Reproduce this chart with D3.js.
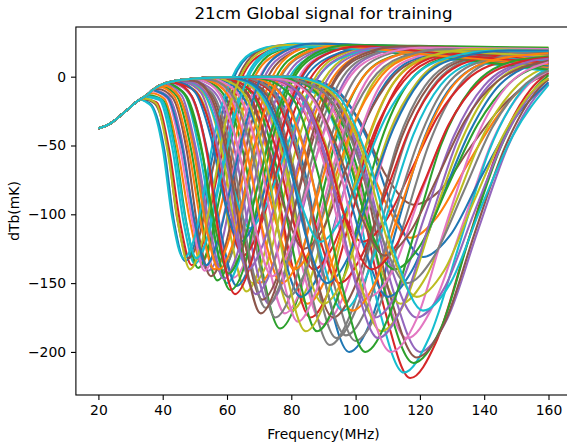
<!DOCTYPE html>
<html>
<head>
<meta charset="utf-8">
<script src="https://cdn.jsdelivr.net/npm/d3@7"></script>
<style>
  body { margin: 0; background: #fff; }
  text { font-family: "DejaVu Sans", sans-serif; }
</style>
</head>
<body>
<script>
// shared rising part of every signal
var riseF = [20, 22, 24, 26, 28, 30, 32, 33];
var riseT = [-37.5, -36, -33.5, -30, -26, -22, -18, -16.5];
// plateau that the later-trough signals follow before they dip
var plateauF = [35, 37, 39, 42, 45, 50, 56, 65, 80, 100, 130, 160];
var plateauT = [-13.5, -9.5, -6.5, -4, -2.6, -1.3, -0.6, -0.2, 0, 0.2, 0.3, 0.3];

var xTicks = [20, 40, 60, 80, 100, 120, 140, 160];
var yTicks = [-200, -150, -100, -50, 0];
var palette = ["#1f77b4", "#ff7f0e", "#2ca02c", "#d62728", "#9467bd",
               "#8c564b", "#e377c2", "#7f7f7f", "#bcbd22", "#17becf"];

// each signal: [frequency MHz, dTb mK] points after it leaves the shared curve
var signals = [
  [[69,-2],[76.5,-16],[84.5,-72],[91,-154],[98,-200],[105,-176],[112.5,-112],[120.5,-50],[129.5,-8],[142,11],[160,16]],
  [[82,-1],[91.5,-9],[100.5,-42],[109,-90],[117,-117],[125,-103],[134.5,-65],[144,-29],[154.5,-3],[160,4]],
  [[53.5,-3],[59.5,-15],[66,-66],[71,-141],[76.5,-183],[82,-161],[88,-102],[94,-45],[101,-5],[111,14.5],[124,20],[160,18]],
  [[82,-2],[91.5,-17],[100.5,-79],[109,-169],[117,-219],[125,-193],[134.5,-123],[144,-55],[154.5,-9],[160,3]],
  [[84,-2],[93.5,-16],[103,-72],[111.5,-154],[120,-200],[128.5,-176],[138,-112],[147.5,-50],[158.5,-8],[160,-5]],
  [[82.5,-1],[92,-7],[101.5,-33],[109.5,-72],[118,-93],[126.5,-82],[135.5,-52],[145,-23],[156,-2],[160,2]],
  [[81,-2],[90.5,-15],[100,-68],[108,-146],[116,-190],[124,-167],[133.5,-106],[142.5,-47],[153,-7.5],[160,4]],
  [[70,-2],[78,-15],[86,-69],[93,-148],[100,-192],[107,-169],[115,-107],[123,-48],[132,-7],[145,13],[160,17.5]],
  [[80,-1.5],[89,-13],[98,-59],[106,-127],[114,-165],[122,-145],[131,-92],[140,-41],[150.5,-6],[160,7.5]],
  [[80.5,-2],[89.5,-17],[99,-77],[107,-166],[115,-215],[123,-189],[132.5,-120],[141.5,-54],[152,-9],[160,6.5]],

  [[84.5,-1],[94.5,-10.5],[104,-47],[112.5,-101],[121,-131],[129.5,-115],[139,-73],[149,-32],[160,-4]],
  [[36.5,-12],[40.5,-16],[44.5,-51],[48.5,-105],[52,-135],[55.5,-118],[60,-75],[64,-32],[68.5,-1],[75.5,16.5],[84,22],[120,17.5],[160,12]],
  [[82.5,-2],[92,-16.5],[101.5,-75],[109.5,-160],[118,-208],[126.5,-183],[135.5,-116],[145,-52],[156,-8],[160,1]],
  [[34.5,-16.5],[38,-18.5],[42,-53],[45.5,-107],[49,-137],[52.5,-121],[56.5,-77],[60.5,-33],[64.5,-1.5],[71,16.5],[79.5,22],[120,19.5],[160,16]],
  [[83.5,-2],[93,-14],[102.5,-63],[110.5,-135],[119,-175],[127.5,-154],[137,-98],[146.5,-44],[157,-6.5],[160,-1]],
  [[83.5,-2],[93,-16],[102.5,-73],[110.5,-157],[119,-204],[127.5,-180],[137,-114],[146.5,-51],[157,-8.5],[160,-2]],
  [[43.5,-5],[48.5,-13],[53.5,-53],[57.5,-113],[62,-146],[66.5,-129],[71.5,-82],[76.5,-35],[82,-2],[90,16],[100.5,22],[130,19.5],[160,17]],
  [[66,-2],[73.5,-15],[81,-68],[87.5,-146],[94,-190],[100.5,-167],[108,-106],[115.5,-47],[124,-7],[136.5,13],[152,18],[160,18]],
  [[56,-2.5],[62.5,-14],[69,-61],[74.5,-131],[80,-170],[85.5,-150],[92,-95],[98.5,-42],[105.5,-4.5],[116,14.5],[129.5,20],[160,17]],
  [[35,-15],[39,-17],[43,-52],[46.5,-106],[50,-136],[53.5,-120],[57.5,-76],[61.5,-32],[66,-0.5],[72.5,18],[81,24],[120,15],[160,4]],

  [[34.5,-17.5],[36.5,-20.5],[40.5,-53],[43.5,-105],[47,-134],[50.5,-117],[54,-75],[58,-32],[62,-1.5],[68,17],[76,22],[120,16.5],[160,10]],
  [[59.5,-2],[66.5,-13.5],[73,-59],[79,-127],[85,-165],[91,-145],[98,-92],[104.5,-40.5],[112,-4],[123.5,14.5],[137.5,20],[160,19]],
  [[40,-7],[44.5,-14.5],[49,-55],[53,-115],[57,-148],[61,-131],[65.5,-83],[70,-36],[75,-2],[82.5,17],[92.5,23],[125,18.5],[160,14]],
  [[71.5,-1],[79.5,-9.5],[87.5,-43],[95,-92],[102,-120],[109,-106],[117.5,-67],[125.5,-29],[134.5,-2.5],[148,12],[160,15]],
  [[38,-10],[42,-15],[46.5,-53],[50,-109],[54,-141],[58,-124],[62,-79],[66.5,-34],[71.5,-1],[78.5,17],[87.5,23],[125,21.5],[160,20]],
  [[34.5,-16.5],[37.5,-19.5],[41.5,-51],[44.5,-103],[48,-132],[51.5,-115],[55,-73.5],[59,-31],[63.5,-0.5],[69.5,18],[78,23],[120,16],[160,8]],
  [[63,-2],[70,-14.5],[77.5,-65],[83.5,-139],[90,-180],[96.5,-158],[103.5,-101],[110.5,-44],[119,-5],[130.5,14.5],[146,20],[160,20]],
  [[40.5,-6.5],[45,-14],[50,-52],[54,-110],[58,-142],[62,-125],[66.5,-80],[71.5,-34],[76.5,-1.5],[84,16],[94,22],[125,14],[160,6]],
  [[46,-4],[51.5,-14],[57,-57],[61.5,-120],[66,-156],[70.5,-137],[76,-87],[81,-38],[87,-2.5],[95.5,16],[107,22],[135,18.5],[160,15]],
  [[42,-5.5],[47,-14],[51.5,-55],[56,-116],[60,-150],[64,-132],[69,-84],[74,-36.5],[79,-2.5],[87,15.5],[97,21],[130,16],[160,11]],

  [[44,-4.5],[49,-14],[54,-55.5],[58.5,-117.5],[63,-152],[67.5,-134],[72.5,-85],[77.5,-37],[83,-2],[91.5,17],[102,23],[130,20.5],[160,18]],
  [[49,-3],[54.5,-13],[60,-54],[65,-116],[70,-150],[75,-132],[80.5,-84],[86,-36],[92.5,-2.5],[101.5,16],[113.5,22],[160,20]],
  [[35.5,-13.5],[40,-17],[44,-53],[47.5,-108],[51,-139],[54.5,-122],[58.5,-78],[62.5,-33.5],[67.5,-1.5],[74,17],[82.5,22],[120,16],[160,9]],
  [[60,-2],[67,-14],[74,-63],[80,-135],[86,-175],[92,-154],[99,-98],[106,-43],[113.5,-5],[124.5,14.5],[139.5,20],[160,19]],
  [[51,-3],[57,-14],[63,-60],[68,-127],[73,-165],[78,-145],[84,-92],[90,-40],[96.5,-3.5],[106,16],[118.5,22],[160,16]],
  [[38.5,-9],[43,-15],[47.5,-54],[51,-112],[55,-145],[59,-127],[63.5,-81],[67.5,-35],[72.5,-1.5],[80,17],[89,23],[125,18],[160,13]],
  [[54.5,-2.5],[61,-14],[67,-62],[72.5,-132],[78,-172],[83.5,-151],[89.5,-96],[96,-42],[103,-4.5],[113,15.5],[126.5,21],[160,19]],
  [[64.5,-2],[72,-15.5],[79,-70],[85.5,-150],[92,-195],[98.5,-172],[106,-109],[113,-48.5],[121.5,-7],[133.5,13],[149,18],[160,18]],
  [[47.5,-3.5],[53,-13],[58.5,-54.5],[63,-116],[68,-150],[73,-132],[78,-84],[83.5,-36],[90,-2.5],[98.5,16],[110,22],[160,21]],
  [[67,-2],[75,-13.5],[82.5,-61],[89.5,-131],[96,-170],[102.5,-150],[110.5,-95],[118,-42],[126.5,-6],[139,12],[155.5,17],[160,17]],

  [[58,-2],[64.5,-13],[71.5,-57.5],[77,-123],[83,-160],[89,-141],[95.5,-90],[102,-39],[109.5,-4],[120.5,14.5],[134.5,20],[160,19]],
  [[39,-7.5],[43.5,-14],[48,-52],[52,-108],[56,-140],[60,-123],[64.5,-78],[69,-33],[74,-0.5],[81,18],[90.5,24],[125,15.5],[160,7]],
  [[61.5,-2],[68.5,-15],[75.5,-66.5],[82,-142],[88,-185],[94,-163],[101,-104],[108,-46],[116,-6],[127.5,13.5],[142.5,19],[160,18.5]],
  [[45.5,-4],[50.5,-11.5],[56,-47],[60.5,-100.5],[65,-130],[69.5,-114],[75,-73],[80,-31],[86,-1],[94.5,16.5],[105.5,22],[135,16.5],[160,12]],
  [[74,-2],[82.5,-14],[91,-63],[98.5,-135],[106,-175],[113.5,-154],[122,-98],[130.5,-43.5],[140,-6.5],[153.5,11.5],[160,14.5]],
  [[49.5,-3],[55.5,-14],[61,-59],[66,-125],[71,-162],[76,-143],[81.5,-91],[87.5,-40],[93.5,-3.5],[103,15.5],[115,21],[160,15]],
  [[37,-10.5],[41.5,-16],[45.5,-53],[49.5,-109],[53,-141],[56.5,-124],[61,-79],[65,-34],[70,-1],[77,17],[86,23],[125,21],[160,19]],
  [[52.5,-3],[58.5,-14.5],[64.5,-63],[70,-135],[75,-175],[80.5,-154],[86.5,-98],[92.5,-43],[99,-4.5],[109,15.5],[121.5,21],[160,14]],
  [[63,-2],[70,-13],[77.5,-59],[83.5,-127],[90,-165],[96.5,-145],[103.5,-92],[110.5,-40.5],[119,-4.5],[130.5,14],[146,19],[160,18.5]],
  [[47,-3],[52.5,-10],[57.5,-40],[62.5,-85],[67,-110],[71.5,-97],[77,-62],[82.5,-26],[88.5,0],[97,15],[108.5,20],[135,15],[160,10]],

  [[77,-1.5],[86,-13],[94.5,-57.5],[102.5,-123],[110,-160],[117.5,-141],[126.5,-90],[135.5,-40],[145,-5.5],[160,12]],
  [[56.5,-2],[63,-11.5],[69.5,-50.5],[75.5,-108],[81,-140],[86.5,-123],[93,-78],[99.5,-34],[107,-2.5],[117.5,15],[131,20],[160,19]],
  [[42.5,-5],[47.5,-14.5],[52.5,-57],[56.5,-120],[61,-155],[65.5,-137],[70,-87],[75,-38],[80.5,-2.5],[88.5,16],[99,22],[130,13.5],[160,5]],
  [[66.5,-1.5],[74,-12],[81.5,-54],[88.5,-115.5],[95,-150],[101.5,-132],[109.5,-84],[117,-37],[125.5,-4],[138,13],[154,18],[160,18]],
  [[41.5,-6],[46,-14],[50.5,-54],[55,-114],[59,-147],[63,-130],[68,-82],[72.5,-35.5],[78,-2],[85.5,16],[95.5,22],[130,20],[160,18]],
  [[59,-2],[65.5,-10],[72,-45],[78,-96],[84,-125],[90,-110],[96.5,-70],[103.5,-30],[111,-1.5],[122,14],[136,19],[160,18]],
  [[73,-1.5],[81,-13],[89.5,-57.5],[96.5,-123],[104,-160],[111.5,-141],[119.5,-90],[128,-40],[137.5,-5.5],[151,11.5],[160,14]],
  [[50.5,-3],[56,-14],[62,-61],[67,-129.5],[72,-168],[77,-148],[83,-94],[88.5,-41],[95,-4],[104.5,15.5],[116.5,21],[160,19]],
  [[75.5,-2],[84,-15],[93,-66.5],[100.5,-142.5],[108,-185],[115.5,-163],[124,-104],[133,-46],[142.5,-7.5],[156.5,11.5],[160,12.5]],
  [[34.5,-18],[36.5,-21.5],[40,-52],[43,-103],[46.5,-132],[50,-116],[53.5,-74],[57,-32],[61.5,-1],[67.5,17],[75.5,22],[120,21],[160,20]],

  [[45,-4],[50,-11],[55,-44],[59.5,-93],[64,-120],[68.5,-106],[73.5,-67],[78.5,-29],[84.5,-0.5],[93,15.5],[103.5,21],[130,15],[160,8]],
  [[54,-2.5],[60,-12.5],[66,-54],[71.5,-115.5],[77,-150],[82.5,-132],[88.5,-84],[94.5,-36.5],[101.5,-3],[111.5,14.5],[124.5,20],[160,12]],
  [[78.5,-1.5],[87.5,-11],[96.5,-50.5],[104,-108],[112,-140],[120,-123],[129,-78],[138,-34.5],[148,-4.5],[160,9.5]],
  [[61,-2],[68,-11.5],[75,-50.5],[81,-108],[87,-140],[93,-123],[100,-78],[107,-34],[115,-3],[126,14],[141,19],[160,18.5]],
  [[48.5,-3.5],[54,-13.5],[59.5,-57],[64,-122],[69,-158],[74,-139],[79.5,-88.5],[85,-38.5],[91,-3],[100,16],[112,22],[160,13]],
  [[65,-2],[72.5,-14],[80,-63],[86.5,-135],[93,-175],[99.5,-154],[107,-98],[114.5,-43],[123,-6],[135,13],[150.5,18],[160,18]],
  [[57.5,-2.5],[64,-14.5],[70.5,-64],[76.5,-137],[82,-178],[87.5,-157],[94.5,-100],[101,-44],[108,-5],[119,14.5],[133,20],[160,19]],
  [[68,-2],[75.5,-15],[83.5,-68],[90,-145],[97,-188],[104,-165],[111.5,-105],[119.5,-47],[128,-7],[140.5,12],[157,17],[160,17]],
  [[34.5,-16],[38,-19.5],[41.5,-54],[45,-109],[48.5,-140],[52,-122],[56,-78],[59.5,-33.5],[64,-1],[70.5,18],[78.5,23],[120,19.5],[160,15]],
  [[35.5,-14],[39.5,-16.5],[43.5,-50],[47,-103],[50.5,-132],[54,-116],[58,-74],[62,-32],[66.5,-1],[73,17],[82,22],[120,17],[160,11]],

  [[37.5,-10],[41.5,-15],[46,-51],[50,-106],[53.5,-137],[57,-120],[61.5,-76.5],[66,-33],[70.5,-0.5],[77.5,18],[86.5,24],[125,20.5],[160,17]],
  [[40.5,-6.5],[45,-14],[49.5,-52],[53.5,-109],[57.5,-140],[61.5,-123.5],[66,-79],[70.5,-34],[76,-1.5],[83.5,16.5],[93,22],[125,15.5],[160,9]],
  [[42.5,-5],[47,-13.5],[52,-52.5],[56.5,-111],[60.5,-143],[64.5,-126],[69.5,-80],[74.5,-34.5],[80,-1.5],[87.5,17],[98,23],[130,22],[160,21]],
  [[44,-4.5],[49,-14],[54,-58],[58,-122],[62.5,-158],[67,-139],[72,-88.5],[77,-38.5],[82.5,-3],[90.5,16],[101.5,22],[130,16],[160,10]],
  [[46.5,-3.5],[52,-12],[57,-51],[62,-108],[66.5,-140],[71,-123],[76.5,-78.5],[82,-34],[88,-2],[96.5,15.5],[107.5,21],[160,18]],
  [[49.5,-3],[55,-14.5],[60.5,-62],[65.5,-132.5],[70.5,-172],[75.5,-151],[81,-96],[86.5,-42],[93,-4],[102,16],[114,22],[160,17]],
  [[52,-2.5],[57.5,-12],[63.5,-52.5],[69,-112],[74,-145],[79,-127.5],[85,-81],[91,-35],[97.5,-2.5],[107.5,15.5],[120,21],[160,20]],
  [[55.5,-2.5],[61.5,-13],[68,-57.5],[73.5,-123],[79,-160],[84.5,-141],[91,-89.5],[97,-39],[104.5,-4],[114.5,14.5],[128,20],[160,16]],
  [[59,-2],[66,-15],[72.5,-66.5],[78.5,-142.5],[84.5,-185],[90.5,-163],[97,-103.5],[104,-45.5],[111.5,-5.5],[122.5,14.5],[137,20],[160,19]],
  [[62.5,-1.5],[69.5,-9.5],[76.5,-43],[83,-92.5],[89,-120],[95,-105.5],[102.5,-67],[109.5,-29],[117.5,-1.5],[129,14],[144,19],[160,18.5]],

  [[63.5,-1.5],[71,-12],[78.5,-54],[84.5,-115.5],[91,-150],[97.5,-132],[104.5,-84],[112,-36.5],[120,-3.5],[132,14],[147.5,19],[160,19]],
  [[69.5,-1.5],[77,-13.5],[85,-61],[92,-131],[99,-170],[106,-150],[114,-95],[122,-42],[130.5,-6],[143.5,12.5],[160,17]],
  [[72,-2],[80.5,-16],[88.5,-72],[96,-154],[103,-200],[110,-176],[118.5,-112],[126.5,-50],[136,-8.5],[149.5,11.5],[160,14.5]],
  [[73.5,-1.5],[82,-11],[90.5,-50.5],[97.5,-108],[105,-140],[112.5,-123],[121,-78.5],[129,-34.5],[138.5,-4],[152.5,11.5],[160,14]],
  [[75,-2],[83.5,-15],[92,-68.5],[99.5,-146],[107,-190],[114.5,-167],[123,-106.5],[131.5,-47.5],[141,-7.5],[155,11.5],[160,13]],
  [[76.5,-1.5],[85,-10.5],[93.5,-47],[101.5,-100],[109,-130],[116.5,-114.5],[125.5,-73],[134,-32],[144,-3.5],[160,11.5]],
  [[77.5,-2],[86.5,-16],[95.5,-72],[103,-154],[111,-200],[119,-176],[127.5,-112],[136.5,-50],[146.5,-8.5],[160,10.5]],
  [[81,-1.5],[90.5,-12],[100,-54],[108,-115.5],[116,-150],[124,-132],[133.5,-84],[142.5,-37],[153,-5],[160,4.5]],
  [[83.5,-1.5],[93,-13],[102.5,-57.5],[110.5,-123],[119,-160],[127.5,-141],[137,-89.5],[146.5,-40],[157,-6],[160,-1]],
  [[84.5,-1.5],[94.5,-13.5],[104,-61],[112.5,-131],[121,-170],[129.5,-150],[139,-95],[149,-42.5],[160,-6]]
];

var w = 567, h = 443;
var plotLeft = 75.9, plotRight = 571, plotTop = 27, plotBottom = 395;

var svg = d3.select("body").append("svg")
    .attr("width", w)
    .attr("height", h);

var x = d3.scaleLinear().domain([13, 167]).range([plotLeft, plotRight]);
var y = d3.scaleLinear().domain([-231.3, 36.1]).range([plotBottom, plotTop]);

svg.append("defs").append("clipPath").attr("id", "plotArea")
  .append("rect")
    .attr("x", plotLeft).attr("y", plotTop)
    .attr("width", plotRight - plotLeft).attr("height", plotBottom - plotTop);

var shared = riseF.map(function(f, i) { return [f, riseT[i]]; })
  .concat(plateauF.map(function(f, i) { return [f, plateauT[i]]; }));

var line = d3.line()
    .x(function(d) { return x(d[0]); })
    .y(function(d) { return y(d[1]); })
    .curve(d3.curveMonotoneX);

svg.append("g")
    .attr("clip-path", "url(#plotArea)")
  .selectAll("path")
  .data(signals)
  .enter()
  .append("path")
    .attr("d", function(s) {
      var start = s[0][0];
      return line(shared.filter(function(p) { return p[0] < start; }).concat(s));
    })
    .attr("fill", "none")
    .attr("stroke", function(d, i) { return palette[i % 10]; })
    .attr("stroke-width", 2.08)
    .attr("stroke-linejoin", "round");

// axes
var minus = function(d) { return d < 0 ? "\u2212" + (-d) : String(d); };

var gx = svg.append("g")
    .attr("transform", "translate(0," + plotBottom + ")")
    .call(d3.axisBottom(x).tickValues(xTicks).tickSize(4.9).tickPadding(4.9));
var gy = svg.append("g")
    .attr("transform", "translate(" + plotLeft + ",0)")
    .call(d3.axisLeft(y).tickValues(yTicks).tickSize(4.9).tickPadding(4.9).tickFormat(minus));

[gx, gy].forEach(function(g) {
  g.select(".domain").remove();
  g.attr("font-family", "DejaVu Sans").attr("font-size", 13.9);
  g.selectAll("line").attr("stroke", "#000").attr("stroke-width", 1.1);
  g.selectAll("text").attr("fill", "#000");
});

svg.append("rect")
    .attr("x", plotLeft).attr("y", plotTop)
    .attr("width", plotRight - plotLeft).attr("height", plotBottom - plotTop)
    .attr("fill", "none")
    .attr("stroke", "#000")
    .attr("stroke-width", 1.1);

svg.append("text")
    .attr("x", (plotLeft + plotRight) / 2).attr("y", 18.5)
    .attr("text-anchor", "middle")
    .attr("font-size", 16.7)
    .attr("fill", "#000")
    .text("21cm Global signal for training");

svg.append("text")
    .attr("x", (plotLeft + plotRight) / 2).attr("y", 438.5)
    .attr("text-anchor", "middle")
    .attr("font-size", 13.9)
    .attr("fill", "#000")
    .text("Frequency(MHz)");

svg.append("text")
    .attr("transform", "translate(19," + (plotTop + plotBottom) / 2 + ") rotate(-90)")
    .attr("text-anchor", "middle")
    .attr("font-size", 13.9)
    .attr("fill", "#000")
    .text("dTb(mK)");
</script>
</body>
</html>
